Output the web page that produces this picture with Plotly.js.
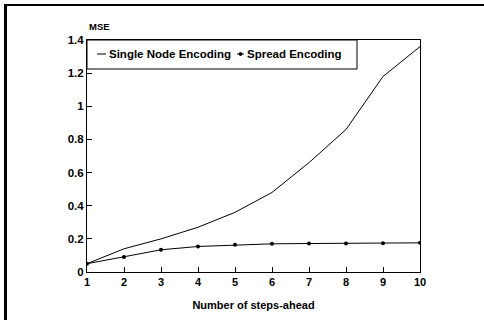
<!DOCTYPE html>
<html>
<head>
<meta charset="utf-8">
<script src="https://cdn.plot.ly/plotly-3.0.1.min.js"></script>
<style>
  html, body { margin: 0; padding: 0; background: #fff; width: 484px; height: 320px; overflow: hidden; }
  #frame { position: absolute; left: 4px; top: 4px; width: 480px; height: 316px; box-sizing: border-box;
           border-top: 2px solid #000; border-left: 3px solid #000; }
  #chart { position: absolute; left: 0; top: 0; width: 484px; height: 320px; }
</style>
</head>
<body>
<div id="frame"></div>
<div id="chart"></div>
<script>
const steps = [1, 2, 3, 4, 5, 6, 7, 8, 9, 10];
const singleNode = [0.05, 0.14, 0.20, 0.27, 0.36, 0.48, 0.66, 0.86, 1.18, 1.36];
const spread = [0.05, 0.09, 0.134, 0.154, 0.164, 0.17, 0.172, 0.172, 0.173, 0.176];
const seriesNames = ['Single Node Encoding', 'Spread Encoding'];
const yTicks = [0, 0.2, 0.4, 0.6, 0.8, 1, 1.2, 1.4];

const FONT = 'Liberation Sans, Arial, sans-serif';

const traces = [
  { x: steps, y: singleNode, name: seriesNames[0], mode: 'lines',
    line: { color: '#000', width: 1 }, showlegend: false },
  { x: steps, y: spread, name: seriesNames[1], mode: 'lines+markers',
    line: { color: '#000', width: 1 }, marker: { color: '#000', size: 4 }, showlegend: false }
];

const W = 333, H = 232, L = 87, T = 40;
const px = v => (v - L) / W;
const py = v => (T + H - v) / H;

const layout = {
  width: 484, height: 320,
  margin: { l: L, r: 484 - L - W, t: T, b: 320 - T - H },
  paper_bgcolor: 'rgba(0,0,0,0)', plot_bgcolor: '#fff',
  font: { family: FONT, color: '#000', size: 11, weight: 'bold' },
  showlegend: false,
  xaxis: {
    range: [1, 10], tickvals: steps, ticks: 'inside', ticklen: 5, tickcolor: '#000',
    showline: true, mirror: true, linecolor: '#000', linewidth: 1,
    showgrid: false, zeroline: false,
    tickfont: { family: FONT, size: 11, weight: 'bold' },
    title: { text: 'Number of steps-ahead', font: { family: FONT, size: 11, weight: 'bold' }, standoff: 14 }
  },
  yaxis: {
    range: [0, 1.4], tickvals: yTicks, ticktext: yTicks.map(v => String(v)),
    ticks: 'inside', ticklen: 5, tickcolor: '#000',
    showline: true, mirror: true, linecolor: '#000', linewidth: 1,
    showgrid: false, zeroline: false,
    tickfont: { family: FONT, size: 11.5, weight: 'bold' }
  },
  shapes: [
    { type: 'rect', xref: 'paper', yref: 'paper', x0: 0, x1: px(357), y0: py(69), y1: 1,
      line: { color: '#000', width: 1 }, fillcolor: '#fff', layer: 'above' },
    { type: 'line', xref: 'paper', yref: 'paper', x0: px(97), x1: px(106), y0: py(54), y1: py(54),
      line: { color: '#000', width: 1 }, layer: 'above' },
    { type: 'line', xref: 'paper', yref: 'paper', x0: px(237), x1: px(244), y0: py(54), y1: py(54),
      line: { color: '#000', width: 1 }, layer: 'above' },
    { type: 'circle', xref: 'paper', yref: 'paper', x0: px(239), x1: px(242), y0: py(55.5), y1: py(52.5),
      line: { color: '#000', width: 1 }, fillcolor: '#000', layer: 'above' }
  ],
  annotations: [
    { text: 'MSE', xref: 'paper', yref: 'paper', x: 0, y: 1, xanchor: 'left', yanchor: 'bottom',
      yshift: 6, showarrow: false, font: { family: FONT, size: 9.5, weight: 'bold' } },
    { text: seriesNames[0], xref: 'paper', yref: 'paper', x: px(107), y: py(54),
      xanchor: 'left', yanchor: 'middle', showarrow: false,
      font: { family: FONT, size: 11.5, weight: 'bold' } },
    { text: seriesNames[1], xref: 'paper', yref: 'paper', x: px(245), y: py(54),
      xanchor: 'left', yanchor: 'middle', showarrow: false,
      font: { family: FONT, size: 11.5, weight: 'bold' } }
  ]
};

Plotly.newPlot('chart', traces, layout, { displayModeBar: false, staticPlot: true });
</script>
</body>
</html>
